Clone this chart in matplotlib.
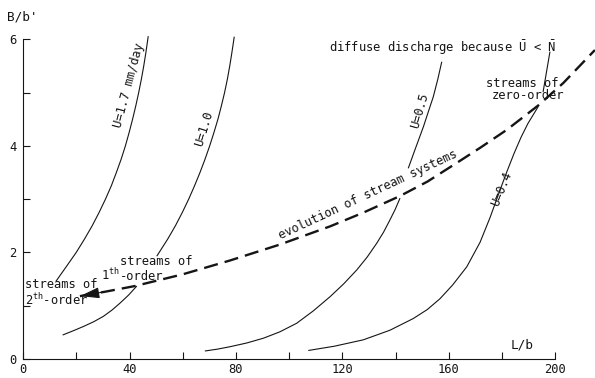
import matplotlib

matplotlib.use("Agg")

import matplotlib.pyplot as plt


plt.rcParams["font.family"] = "DejaVu Sans Mono"
plt.rcParams["mathtext.fontset"] = "custom"
plt.rcParams["mathtext.rm"] = "DejaVu Sans Mono"
plt.rcParams["mathtext.it"] = "DejaVu Sans Mono"

INK = "#151515"
FONT_SIZE = 8.7

# recharge curves, L/b against B/b'
U17_L = [12.3, 16.4, 19.9, 23.0, 25.9, 28.5, 30.9, 33.1, 35.0, 36.8, 38.4,
         39.8, 41.1, 42.3, 43.4, 44.4, 45.3, 46.1, 47.0]
U17_B = [1.46, 1.75, 2.00, 2.25, 2.50, 2.75, 3.00, 3.25, 3.50, 3.75, 4.00,
         4.25, 4.50, 4.75, 5.00, 5.25, 5.50, 5.75, 6.06]

U10_LOWER_L = [14.8, 18.8, 22.6, 26.5, 30.1, 33.4, 36.4, 39.6, 42.7]
U10_LOWER_B = [0.45, 0.53, 0.61, 0.70, 0.80, 0.92, 1.05, 1.20, 1.37]
U10_UPPER_L = [50.2, 51.1, 54.3, 57.2, 59.8, 62.2, 64.4, 66.45, 68.35, 70.1,
               71.7, 73.2, 74.5, 75.7, 76.75, 77.65, 78.45, 79.35]
U10_UPPER_B = [1.93, 2.00, 2.25, 2.50, 2.75, 3.00, 3.25, 3.50, 3.75, 4.00,
               4.25, 4.50, 4.75, 5.00, 5.25, 5.50, 5.75, 6.05]

U05_LOWER_L = [68.3, 73.0, 77.7, 84.0, 90.3, 96.5, 102.8, 109.0, 115.4, 120.5,
               125.4, 129.3, 132.9, 135.5, 137.9, 139.9, 141.7]
U05_LOWER_B = [0.15, 0.185, 0.23, 0.30, 0.39, 0.51, 0.67, 0.90, 1.17, 1.41,
               1.67, 1.91, 2.17, 2.38, 2.61, 2.81, 3.02]
U05_UPPER_L = [144.8, 147.7, 150.5, 152.4, 154.2, 155.9, 157.4]
U05_UPPER_B = [3.58, 3.98, 4.36, 4.65, 4.92, 5.25, 5.58]

U04_L = [107.2, 117.0, 127.9, 137.9, 146.7, 152.0, 156.7, 161.5, 166.8, 171.8,
         175.6, 179.3, 182.0, 184.6, 187.2, 189.8, 193.7]
U04_B = [0.16, 0.24, 0.36, 0.54, 0.76, 0.93, 1.13, 1.39, 1.73, 2.19,
         2.66, 3.17, 3.53, 3.86, 4.16, 4.42, 4.74]

# evolution path of the stream systems (arrow tip first)
EVOLUTION_L = [21.3, 31.0, 42.0, 60.0, 77.8, 96.6, 115.4, 128.0, 141.7, 152.0,
               163.0, 172.0, 181.8, 193.7, 203.1, 215.0]
EVOLUTION_B = [1.18, 1.265, 1.37, 1.59, 1.85, 2.15, 2.49, 2.75, 3.06, 3.33,
               3.68, 3.97, 4.30, 4.76, 5.18, 5.80]

# leader from the diffuse discharge note to the zero-order label
LEADER_L = [198.1, 195.5]
LEADER_B = [5.77, 5.01]

X_TICKS = [0, 40, 80, 120, 160, 200]
X_MINOR = [20, 60, 100, 140, 180]
Y_TICKS = [0, 2, 4, 6]
Y_MINOR = [1, 3, 5]


def draw_curves(ax):
    style = dict(color=INK, lw=0.8, solid_capstyle="butt", solid_joinstyle="round")
    ax.plot(U17_L, U17_B, **style)
    ax.plot(U10_LOWER_L, U10_LOWER_B, **style)
    ax.plot(U10_UPPER_L, U10_UPPER_B, **style)
    ax.plot(U05_LOWER_L, U05_LOWER_B, **style)
    ax.plot(U05_UPPER_L, U05_UPPER_B, **style)
    ax.plot(U04_L, U04_B, **style)
    ax.plot(LEADER_L, LEADER_B, **style)

    ax.plot(
        EVOLUTION_L,
        EVOLUTION_B,
        color=INK,
        lw=1.7,
        dashes=(6, 3),
        dash_capstyle="butt",
        clip_on=False,
    )
    ax.annotate(
        "",
        xy=(EVOLUTION_L[0], EVOLUTION_B[0]),
        xytext=(EVOLUTION_L[0] + 8, EVOLUTION_B[0] + 0.07),
        arrowprops=dict(
            arrowstyle="-|>,head_length=1.0,head_width=0.28",
            mutation_scale=12,
            color=INK,
            lw=0.8,
            shrinkA=0,
            shrinkB=0,
        ),
    )


def draw_labels(ax):
    text = dict(fontsize=FONT_SIZE, color=INK)
    rot = dict(ha="center", va="center", rotation_mode="anchor", **text)

    ax.text(39.8, 5.14, "U=1.7 mm/day", rotation=75, **rot)
    ax.text(68.0, 4.32, "U=1.0", rotation=73, **rot)
    ax.text(149.2, 4.66, "U=0.5", rotation=74, **rot)
    ax.text(180.0, 3.19, "U=0.4", rotation=68, **rot)
    ax.text(129.7, 3.08, "evolution of stream systems", rotation=25, **rot)

    ax.text(
        200.5, 5.76, r"diffuse discharge because $\bar{\mathrm{U}}$ < $\bar{\mathrm{N}}$",
        ha="right", va="baseline", **text
    )
    ax.text(187.6, 5.11, "streams of", ha="center", va="baseline", **text)
    ax.text(189.8, 4.88, "zero-order", ha="center", va="baseline", **text)

    ax.text(0.64, 1.33, "streams of", ha="left", va="baseline", **text)
    ax.text(0.64, 1.01, r"2$^{\mathrm{th}}$-order", ha="left", va="baseline", **text)

    # first-order label: ordinal, then the two stacked parts
    ax.text(36.4, 1.49, r"1$^{\mathrm{th}}$", ha="right", va="baseline", **text)
    ax.text(36.4, 1.49, "-order", ha="left", va="baseline", **text)
    ax.text(36.4, 1.76, "streams of", ha="left", va="baseline", **text)

    ax.text(187.6, 0.19, "L/b", ha="center", va="baseline", fontsize=9.2, color=INK)
    ax.text(-6.2, 6.36, "B/b'", ha="left", va="baseline", fontsize=9.2, color=INK)


def style_axes(ax):
    ax.set_xlim(0, 215)
    ax.set_ylim(0, 6.6)
    for side in ("top", "right"):
        ax.spines[side].set_visible(False)
    ax.spines["left"].set_bounds(0, 6)
    ax.spines["bottom"].set_bounds(0, 200)
    for side in ("left", "bottom"):
        ax.spines[side].set_linewidth(0.8)
        ax.spines[side].set_color(INK)

    ax.set_xticks(X_TICKS)
    ax.set_xticks(X_MINOR, minor=True)
    ax.set_yticks(Y_TICKS)
    ax.set_yticks(Y_MINOR, minor=True)
    ax.set_xticklabels([str(v) for v in X_TICKS])
    ax.set_yticklabels([str(v) for v in Y_TICKS])
    ax.tick_params(which="both", direction="in", length=5, width=0.8, color=INK,
                   labelsize=FONT_SIZE, labelcolor=INK)
    ax.tick_params(axis="x", which="both", pad=3)
    ax.tick_params(axis="y", which="both", pad=5)


def main():
    fig = plt.figure(figsize=(5.95, 3.78), dpi=100)
    ax = fig.add_axes([23.3 / 595, 19 / 378, 571.6 / 595, 351.6 / 378])
    ax.patch.set_visible(False)

    draw_curves(ax)
    draw_labels(ax)
    style_axes(ax)

    fig.savefig("out.png", dpi=100, facecolor="white")
    plt.close(fig)


if __name__ == "__main__":
    main()
